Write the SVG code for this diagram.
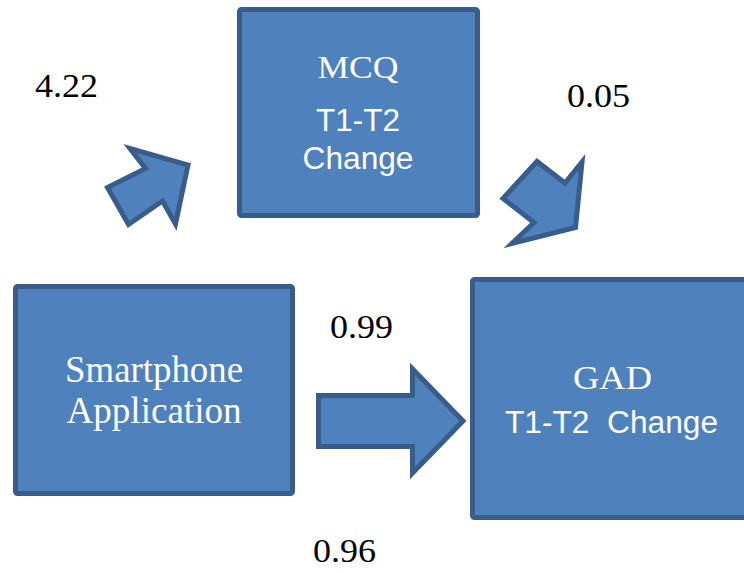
<svg xmlns="http://www.w3.org/2000/svg" width="744" height="573" viewBox="0 0 744 573">
  <style>
    .box { fill: #4F81BD; stroke: #385D8A; stroke-width: 5; }
    .arrow { fill: #4F81BD; stroke: #385D8A; stroke-width: 5; stroke-linejoin: miter; }
    .lbl { fill: #FFFFFF; text-anchor: middle; }
    .coef { fill: #000000; }
  </style>
  <rect width="744" height="573" fill="#FFFFFF"/>

  <g id="connectors">
    <polygon class="arrow" points="107.5,187.5 128.5,224.5 162.5,201 175.5,224 188,165 130,148.5 145.5,168.5"/>
    <polygon class="arrow" points="503,198.5 537,161.5 565,183 582,162 575.5,227.5 512,243.5 534,222.5"/>
    <path class="arrow" d="M318.5,395.5 H412.5 V369 L463,421 L412.5,473 V446.5 H318.5 Z"/>
  </g>

  <g id="node-mcq">
    <rect class="box" x="239.5" y="9.5" width="238" height="206" rx="2"/>
    <text class="lbl" font-family="'Liberation Serif', 'Times New Roman', serif" x="358" y="78" font-size="32" textLength="81" lengthAdjust="spacingAndGlyphs">MCQ</text>
    <text class="lbl" font-family="'Liberation Sans', Arial, sans-serif" x="358" y="131" font-size="31" textLength="84" lengthAdjust="spacingAndGlyphs">T1-T2</text>
    <text class="lbl" font-family="'Liberation Sans', Arial, sans-serif" x="358" y="169" font-size="31" textLength="111" lengthAdjust="spacingAndGlyphs">Change</text>
  </g>

  <g id="node-smartphone">
    <rect class="box" x="15.5" y="286.5" width="277" height="207" rx="2"/>
    <text class="lbl" font-family="'Liberation Serif', 'Times New Roman', serif" x="154" y="382" font-size="37" textLength="178" lengthAdjust="spacingAndGlyphs">Smartphone</text>
    <text class="lbl" font-family="'Liberation Serif', 'Times New Roman', serif" x="154" y="423" font-size="37" textLength="175" lengthAdjust="spacingAndGlyphs">Application</text>
  </g>

  <g id="node-gad">
    <rect class="box" x="472.5" y="279.5" width="290" height="238" rx="2"/>
    <text class="lbl" font-family="'Liberation Serif', 'Times New Roman', serif" x="612.5" y="389" font-size="33" textLength="79" lengthAdjust="spacingAndGlyphs">GAD</text>
    <text class="lbl" font-family="'Liberation Sans', Arial, sans-serif" x="611.5" y="433" font-size="31" textLength="213" lengthAdjust="spacingAndGlyphs" xml:space="preserve">T1-T2  Change</text>
  </g>

  <g id="coefficients" font-family="'Liberation Serif', 'Times New Roman', serif" font-size="33">
    <text class="coef" x="35" y="97" textLength="63" lengthAdjust="spacingAndGlyphs">4.22</text>
    <text class="coef" x="567" y="107" textLength="63" lengthAdjust="spacingAndGlyphs">0.05</text>
    <text class="coef" x="330" y="338" textLength="63" lengthAdjust="spacingAndGlyphs">0.99</text>
    <text class="coef" x="313" y="562" textLength="63" lengthAdjust="spacingAndGlyphs">0.96</text>
  </g>
</svg>
